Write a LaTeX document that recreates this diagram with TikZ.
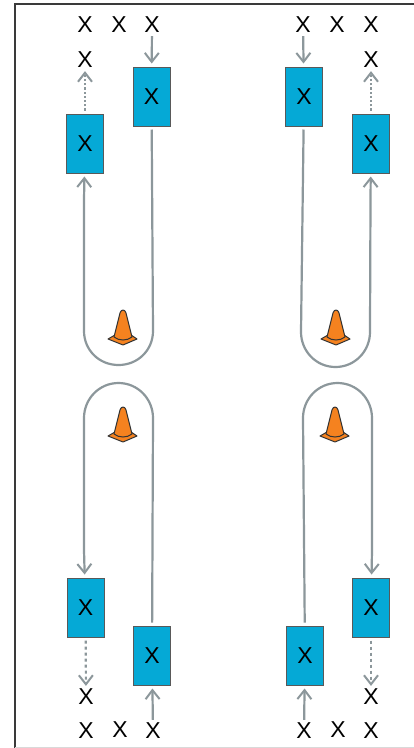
\documentclass[tikz,border=0pt]{standalone}
\usepackage{fontspec}
\setmainfont{Liberation Sans}
\usetikzlibrary{arrows.meta}
\definecolor{lanegray}{HTML}{8C979B}
\definecolor{boxblue}{HTML}{05A9D6}
\definecolor{coneorange}{HTML}{F5821F}
\definecolor{framegray}{HTML}{3A3A3A}
\tikzset{
    cross/.style={inner sep=0pt, font=\fontsize{23}{23}\selectfont},
    player/.style={draw=black!65, fill=boxblue, line width=1pt, minimum width=37pt, minimum height=59pt,
        inner sep=0pt, font=\fontsize{23}{23}\selectfont},
    tip/.style={-{Straight Barb[length=9pt,width=14pt,line width=2pt]}, draw=lanegray},
    lane/.style={tip, line width=2.2pt, shorten <=3pt, shorten >=3pt},
    cone/.pic={
        \draw [fill=coneorange, draw=black!80, line width=1pt, line join=round]
            (-15,29) -- (-8,25) -- (8,25) -- (14,29) -- (0,35) -- cycle;
        \draw [fill=coneorange, draw=black!80, line width=1pt, line join=round]
            (-9,27) -- (-3,3) .. controls (-2,-1) and (2,-1) .. (3,3) -- (9,27)
            .. controls (4,31) and (-4,31) .. (-9,27) -- cycle;
    }
}

\begin{document}
\begin{tikzpicture}[x=1pt, y=-1pt]
    \useasboundingbox (0,0) rectangle (414,748);
    \fill [white] (0,0) rectangle (414,748);
    \draw [framegray, line width=2pt] (15,748) -- (15,4) -- (414,4);
    \draw [black!15, line width=.8pt] (15,747.5) -- (414,747.5);

    % top left
    \node (tlx1) [cross] at (85,25) {X};
    \node (tlx2) [cross] at (119,25) {X};
    \node (tlx3) [cross] at (152,25) {X};
    \node (tlx4) [cross] at (85,60) {X};
    \node (tla) [player] at (85,143.5) {X};
    \node (tlb) [player] at (151.5,96.5) {X};
    % top right
    \node (trx1) [cross] at (303,25) {X};
    \node (trx2) [cross] at (337,25) {X};
    \node (trx3) [cross] at (371,25) {X};
    \node (trx4) [cross] at (371,60) {X};
    \node (tra) [player] at (371,143.5) {X};
    \node (trb) [player] at (304,96.5) {X};
    % bottom left
    \node (blx1) [cross] at (86,731) {X};
    \node (blx2) [cross] at (120,730) {X};
    \node (blx3) [cross] at (153,731) {X};
    \node (blx4) [cross] at (86,697) {X};
    \node (bla) [player] at (85.5,607.5) {X};
    \node (blb) [player] at (152,655.5) {X};
    % bottom right
    \node (brx1) [cross] at (304,731) {X};
    \node (brx2) [cross] at (338,730) {X};
    \node (brx3) [cross] at (371,731) {X};
    \node (brx4) [cross] at (371,697) {X};
    \node (bra) [player] at (371,607.5) {X};
    \node (brb) [player] at (305,655.5) {X};

    \pic at (123,310) {cone};
    \pic at (336,310) {cone};
    \pic at (123,407) {cone};
    \pic at (335,407) {cone};

    \path [lane]
    (tlx3) edge (tlb)
    (trx1) edge (trb)
    (blx3) edge (blb)
    (brx1) edge (brb)
    (tla) edge[dotted] (tlx4)
    (tra) edge[dotted] (trx4)
    (bla) edge[dashed] (blx4)
    (bra) edge[dashed] (brx4);

    \draw [lane] (tlb) -- (153,331) .. controls (153,350) and (138,365) .. (118.5,365)
        .. controls (99,365) and (84,350) .. (84,331) -- (84,200) -- (tla);
    \draw [lane] (trb) -- (301,332) .. controls (301,351) and (316,367) .. (335.5,367)
        .. controls (355,367) and (370,351) .. (370,332) -- (370.5,200) -- (tra);
    \draw [lane] (blb) -- (153,418) .. controls (153,399) and (138,383) .. (118.5,383)
        .. controls (99,383) and (84,399) .. (84,418) -- (84,550) -- (bla);
    \draw [lane] (brb) -- (303,418) .. controls (303,399) and (318,383) .. (337.5,383)
        .. controls (357,383) and (372,399) .. (372,418) -- (372,550) -- (bra);
\end{tikzpicture}
\end{document}
